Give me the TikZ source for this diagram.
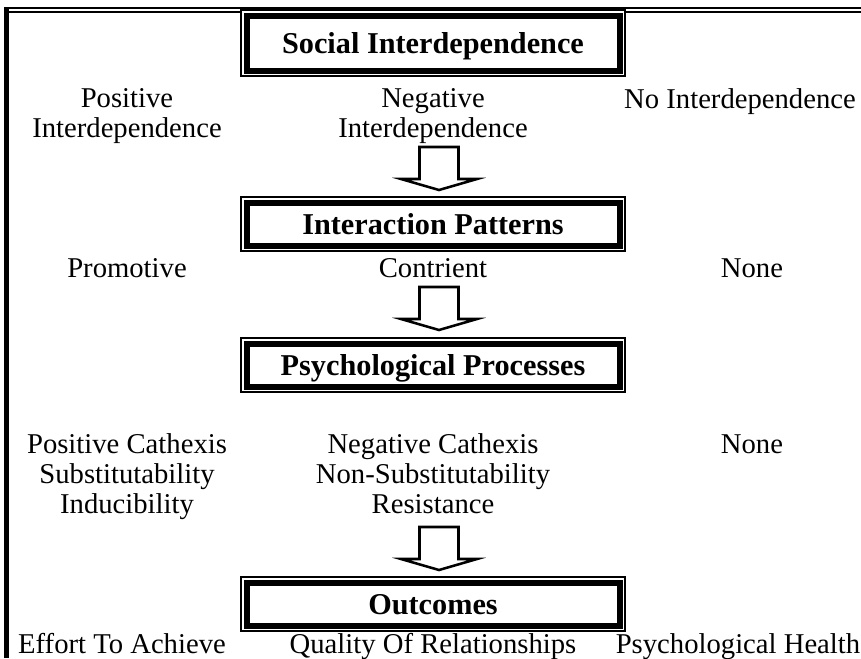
\documentclass[tikz,border=0pt]{standalone}
\usepackage{fontspec}
\setmainfont{Liberation Serif}
\usetikzlibrary{calc}
\pgfdeclarelayer{bg}
\pgfsetlayers{bg,main}
\tikzset{
  titlebox/.style={draw, fill=white, line width=4.5pt, inner sep=0pt, outer sep=0pt,
    minimum width=279.75pt, minimum height=32.25pt, text height=15pt, text depth=0pt,
    font=\fontsize{22.7}{24}\selectfont\bfseries},
  thinbox/.style={draw, fill=white, line width=1.1pt},
  rowtext/.style={inner sep=0pt, outer sep=0pt, align=center, font=\fontsize{21.5}{22.5}\selectfont},
  blockarrow/.style={draw, fill=white, line width=1.9pt},
  frameline/.style={draw, line width=1.5pt},
}
\begin{document}
\begin{tikzpicture}[x=0.75pt,y=-0.75pt]
        \useasboundingbox (0,0) rectangle (861,658);
        % the four stages
        \node[titlebox, minimum height=41.25pt] (social) at (433,43) {Social Interdependence};
        \node[titlebox] (inter) at (433,224) {Interaction Patterns};
        \node[titlebox] (psych) at (433,365) {Psychological Processes};
        \node[titlebox] (outc) at (433,604) {Outcomes};
        % the three columns
        \node[rowtext] (posint) at (127,116.4) {Positive\\Interdependence};
        \node[rowtext] (negint) at (433,116.4) {Negative\\Interdependence};
        \node[rowtext, anchor=base] (noint) at (740,108) {No Interdependence};
        \node[rowtext, anchor=base] (promo) at (127,277) {Promotive};
        \node[rowtext, anchor=base] (contr) at (433,277) {Contrient};
        \node[rowtext, anchor=base] (noneint) at (752,277) {None};
        \node[rowtext] (poscat) at (127,476.3) {Positive Cathexis\\Substitutability\\Inducibility};
        \node[rowtext] (negcat) at (433,473.2) {Negative Cathexis\\Non-Substitutability\\Resistance};
        \node[rowtext, anchor=base] (nonepsy) at (752,453) {None};
        \node[rowtext, anchor=base] (effort) at (122,653) {Effort To Achieve};
        \node[rowtext, anchor=base] (quality) at (433,653) {Quality Of Relationships};
        \node[rowtext, anchor=base] (health) at (738,653) {Psychological Health};
        % block arrows between the stages
        \coordinate (arrsoc) at (439,147);
        \coordinate (arrint) at (439,287);
        \coordinate (arrpsy) at (439,527);
        \draw[blockarrow] ($(arrsoc)+(-19.5,0)$) -- ++(39,0) -- ++(0,32) -- ++(18.5,0) -- ++(-38,11) -- ++(-38,-11) -- ++(18.5,0) -- cycle;
        \draw[blockarrow] ($(arrint)+(-19.5,0)$) -- ++(39,0) -- ++(0,32) -- ++(18.5,0) -- ++(-38,11) -- ++(-38,-11) -- ++(18.5,0) -- cycle;
        \draw[blockarrow] ($(arrpsy)+(-19.5,0)$) -- ++(39,0) -- ++(0,32) -- ++(18.5,0) -- ++(-38,11) -- ++(-38,-11) -- ++(18.5,0) -- cycle;
        \begin{pgfonlayer}{bg}
          % outer frame, cut at right and bottom
          \draw[frameline, line width=3.2pt] (6.4,658) -- (6.4,8.3);
          \draw[frameline] (4.3,8.3) -- (861,8.3);
          \draw[frameline, line width=0.9pt] (8,12) -- (861,12);
          % thin outer line of each stage box
          \draw[thinbox] ($(social.south west)+(-5.5,5.5)$) rectangle ($(social.north east)+(5.5,-5.5)$);
          \draw[thinbox] ($(inter.south west)+(-5.5,5.5)$) rectangle ($(inter.north east)+(5.5,-5.5)$);
          \draw[thinbox] ($(psych.south west)+(-5.5,5.5)$) rectangle ($(psych.north east)+(5.5,-5.5)$);
          \draw[thinbox] ($(outc.south west)+(-5.5,5.5)$) rectangle ($(outc.north east)+(5.5,-5.5)$);
        \end{pgfonlayer}
\end{tikzpicture}
\end{document}
